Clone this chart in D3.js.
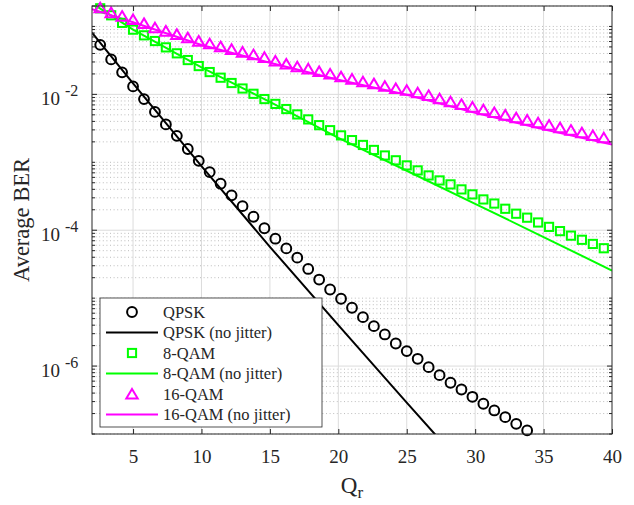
<!DOCTYPE html>
<html>
<head>
<meta charset="utf-8">
<script src="https://cdn.jsdelivr.net/npm/d3@7"></script>
<style>
body { margin: 0; background: #fff; }
text { font-family: "Liberation Serif", "Times New Roman", serif; fill: #262626; }
</style>
</head>
<body>
<div id="chart"></div>
<script>
// simulated points (with jitter)
var qpskX = [2.6, 3.4, 4.2, 5.0, 5.8, 6.6, 7.4, 8.2, 9.0, 9.8, 10.6, 11.4, 12.2, 13.0, 13.8, 14.6, 15.4, 16.2, 17.0, 17.8,
    18.6, 19.4, 20.2, 21.0, 21.8, 22.6, 23.4, 24.2, 25.0, 25.8, 26.6, 27.4, 28.2, 29.0, 29.8, 30.6, 31.4, 32.2, 33.0, 33.8];
var qamX = [2.6, 3.4, 4.2, 5.0, 5.8, 6.6, 7.4, 8.2, 9.0, 9.8, 10.6, 11.4, 12.2, 13.0, 13.8, 14.6, 15.4, 16.2, 17.0, 17.8,
    18.6, 19.4, 20.2, 21.0, 21.8, 22.6, 23.4, 24.2, 25.0, 25.8, 26.6, 27.4, 28.2, 29.0, 29.8, 30.6, 31.4, 32.2, 33.0, 33.8,
    34.6, 35.4, 36.2, 37.0, 37.8, 38.6, 39.4];
var qpskBer = [5.36e-2, 3.27e-2, 2.11e-2, 1.31e-2, 8.53e-3, 5.52e-3, 3.61e-3, 2.45e-3, 1.57e-3, 1.05e-3,
    7.18e-4, 4.84e-4, 3.26e-4, 2.26e-4, 1.58e-4, 1.07e-4, 7.50e-5, 5.40e-5, 3.94e-5, 2.69e-5,
    1.88e-5, 1.34e-5, 9.80e-6, 7.22e-6, 5.25e-6, 3.87e-6, 2.92e-6, 2.15e-6, 1.66e-6, 1.28e-6,
    9.64e-7, 7.35e-7, 5.68e-7, 4.52e-7, 3.53e-7, 2.79e-7, 2.22e-7, 1.77e-7, 1.41e-7, 1.13e-7];
var qam8Ber = [1.85e-1, 1.46e-1, 1.13e-1, 8.97e-2, 7.40e-2, 6.10e-2, 4.92e-2, 4.02e-2, 3.20e-2, 2.61e-2,
    2.13e-2, 1.76e-2, 1.47e-2, 1.22e-2, 1.02e-2, 8.53e-3, 7.24e-3, 6.08e-3, 5.07e-3, 4.28e-3,
    3.52e-3, 2.97e-3, 2.49e-3, 2.12e-3, 1.80e-3, 1.52e-3, 1.26e-3, 1.07e-3, 9.00e-4, 7.60e-4,
    6.41e-4, 5.41e-4, 4.73e-4, 3.99e-4, 3.37e-4, 2.84e-4, 2.47e-4, 2.07e-4, 1.75e-4, 1.53e-4,
    1.30e-4, 1.12e-4, 9.70e-5, 8.32e-5, 7.23e-5, 6.28e-5, 5.43e-5];
var qam16Ber = [1.89e-1, 1.60e-1, 1.42e-1, 1.27e-1, 1.11e-1, 9.60e-2, 8.55e-2, 7.66e-2, 6.84e-2, 6.10e-2,
    5.58e-2, 5.05e-2, 4.61e-2, 4.20e-2, 3.85e-2, 3.51e-2, 3.11e-2, 2.81e-2, 2.56e-2, 2.38e-2,
    2.17e-2, 2.00e-2, 1.82e-2, 1.68e-2, 1.54e-2, 1.44e-2, 1.32e-2, 1.22e-2, 1.15e-2, 1.06e-2,
    9.67e-3, 8.65e-3, 7.80e-3, 7.13e-3, 6.50e-3, 5.95e-3, 5.43e-3, 4.96e-3, 4.54e-3, 4.19e-3,
    3.83e-3, 3.53e-3, 3.24e-3, 2.98e-3, 2.73e-3, 2.49e-3, 2.30e-3];

// curves without jitter
var qpskLineX = [2, 5, 10, 15, 20, 25, 28];
var qpskLine = [8.1e-2, 1.45e-2, 8.8e-4, 5.7e-5, 4.0e-6, 2.9e-7, 6.1e-8];
var qamLineX = [2, 5, 10, 15, 20, 25, 30, 35, 40];
var qam8Line = [2.19e-1, 8.97e-2, 2.50e-2, 7.76e-3, 2.29e-3, 7.51e-4, 2.45e-4, 7.94e-5, 2.55e-5];
var qam16Line = [1.79e-1, 1.15e-1, 5.32e-2, 2.93e-2, 1.64e-2, 9.90e-3, 5.34e-3, 3.05e-3, 1.82e-3];

var xTicks = [5, 10, 15, 20, 25, 30, 35, 40];
var yTicks = [1e-2, 1e-4, 1e-6];
var yTickExp = ["-2", "-4", "-6"];
var legendLabels = ["QPSK", "QPSK (no jitter)", "8-QAM", "8-QAM (no jitter)", "16-QAM", "16-QAM (no jitter)"];

var black = "#000000", green = "#00ff00", magenta = "#ff00ff";

// set the dimensions and margins of the graph
var margin = {top: 6, right: 22, bottom: 71, left: 92},
    width = 634 - margin.left - margin.right,
    height = 505 - margin.top - margin.bottom;

var svg = d3.select("#chart")
    .append("svg")
    .attr("width", 634)
    .attr("height", 505)
    .append("g")
    .attr("transform", "translate(" + margin.left + "," + margin.top + ")");

var x = d3.scaleLinear().domain([2, 40]).range([0, width]);
var y = d3.scaleLog().domain([1e-7, 0.2]).range([height, 0]);

// minor grid values (every k*10^n that is not a major one)
var minor = [];
for (var n = -7; n <= -1; n++) {
    for (var k = 1; k <= 9; k++) {
        var v = k * Math.pow(10, n);
        if (v <= 0.2 && !(k == 1 && n % 2 == 0)) minor.push(v);
    }
}

svg.append("g").selectAll("line")
    .data(minor).enter().append("line")
    .attr("x1", 0).attr("x2", width)
    .attr("y1", function(d) { return y(d); }).attr("y2", function(d) { return y(d); })
    .attr("stroke", "#acacac").attr("stroke-width", 0.8)
    .attr("stroke-dasharray", "1,2.6");

// major grid
svg.append("g").selectAll("line")
    .data(yTicks).enter().append("line")
    .attr("x1", 0).attr("x2", width)
    .attr("y1", function(d) { return y(d); }).attr("y2", function(d) { return y(d); })
    .attr("stroke", "#dcdcdc").attr("stroke-width", 1);
svg.append("g").selectAll("line")
    .data(xTicks.slice(0, -1)).enter().append("line")
    .attr("y1", 0).attr("y2", height)
    .attr("x1", function(d) { return x(d); }).attr("x2", function(d) { return x(d); })
    .attr("stroke", "#dcdcdc").attr("stroke-width", 1);

// clip the curves to the plot area
svg.append("clipPath").attr("id", "clip")
    .append("rect").attr("width", width).attr("height", height);

var line = d3.line()
    .x(function(d) { return x(d[0]); })
    .y(function(d) { return y(d[1]); });

function drawLine(xs, ys, color) {
    svg.append("path")
        .datum(d3.zip(xs, ys))
        .attr("clip-path", "url(#clip)")
        .attr("fill", "none")
        .attr("stroke", color)
        .attr("stroke-width", 2)
        .attr("d", line);
}

drawLine(qpskLineX, qpskLine, black);
drawLine(qamLineX, qam8Line, green);
drawLine(qamLineX, qam16Line, magenta);

// markers
function circle(g, cx, cy) {
    g.append("circle").attr("cx", cx).attr("cy", cy).attr("r", 4.9)
        .attr("fill", "none").attr("stroke", black).attr("stroke-width", 2);
}
function square(g, cx, cy) {
    g.append("rect").attr("x", cx - 4.1).attr("y", cy - 4.1).attr("width", 8.2).attr("height", 8.2)
        .attr("fill", "none").attr("stroke", green).attr("stroke-width", 2);
}
function triangle(g, cx, cy) {
    g.append("path")
        .attr("d", "M" + cx + "," + (cy - 5) + "L" + (cx + 5.7) + "," + (cy + 4.6) + "L" + (cx - 5.7) + "," + (cy + 4.6) + "Z")
        .attr("fill", "none").attr("stroke", magenta).attr("stroke-width", 2)
        .attr("stroke-linejoin", "miter");
}

var marks = svg.append("g");
qpskX.forEach(function(d, i) { circle(marks, x(d), y(qpskBer[i])); });
qamX.forEach(function(d, i) { square(marks, x(d), y(qam8Ber[i])); });
qamX.forEach(function(d, i) { triangle(marks, x(d), y(qam16Ber[i])); });

// box and ticks
var axisColor = "#262626";
svg.append("rect").attr("width", width).attr("height", height)
    .attr("fill", "none").attr("stroke", axisColor).attr("stroke-width", 1);

var xAxis = svg.append("g")
    .attr("transform", "translate(0," + height + ")")
    .call(d3.axisBottom(x).tickValues(xTicks).tickSize(-5).tickPadding(16));
xAxis.select(".domain").remove();
xAxis.selectAll("line").attr("stroke", axisColor);
xAxis.selectAll("text").attr("font-size", 19).attr("font-family", "Liberation Serif").attr("fill", axisColor);

var xTop = svg.append("g")
    .call(d3.axisTop(x).tickValues(xTicks).tickSize(-5).tickFormat(""));
xTop.select(".domain").remove();
xTop.selectAll("line").attr("stroke", axisColor);

// y ticks on both sides, major and minor
[0, width].forEach(function(side) {
    var dir = side == 0 ? 1 : -1;
    svg.append("g").selectAll("line")
        .data(yTicks).enter().append("line")
        .attr("x1", side).attr("x2", side + dir * 5)
        .attr("y1", function(d) { return y(d); }).attr("y2", function(d) { return y(d); })
        .attr("stroke", axisColor);
    svg.append("g").selectAll("line")
        .data(minor).enter().append("line")
        .attr("x1", side).attr("x2", side + dir * 3)
        .attr("y1", function(d) { return y(d); }).attr("y2", function(d) { return y(d); })
        .attr("stroke", axisColor);
});

// y tick labels as 10^n
var yLab = svg.append("g").selectAll("g")
    .data(yTicks).enter().append("g")
    .attr("transform", function(d) { return "translate(0," + y(d) + ")"; });
yLab.append("text").attr("x", -51).attr("y", 11).attr("font-size", 19).text("10");
yLab.append("text").attr("x", -27).attr("y", 2).attr("font-size", 16)
    .text(function(d, i) { return yTickExp[i]; });

// axis labels
svg.append("text")
    .attr("transform", "translate(-63," + (height / 2) + ") rotate(-90)")
    .attr("text-anchor", "middle")
    .attr("font-size", 22.5)
    .text("Average BER");

var xl = svg.append("text")
    .attr("x", x(21))
    .attr("y", height + 59)
    .attr("text-anchor", "middle")
    .attr("font-size", 23);
xl.append("tspan").text("Q");
xl.append("tspan").attr("dy", 5).attr("font-size", 17).text("r");

// legend
var lg = svg.append("g").attr("transform", "translate(" + (100 - margin.left) + "," + (298 - margin.top) + ")");
lg.append("rect").attr("width", 222).attr("height", 129)
    .attr("fill", "#fff").attr("stroke", axisColor).attr("stroke-width", 0.8);
var colors = [black, black, green, green, magenta, magenta];
legendLabels.forEach(function(label, i) {
    var ry = 14 + i * 20.5;
    if (i % 2 == 1) {
        lg.append("line").attr("x1", 6).attr("x2", 58).attr("y1", ry).attr("y2", ry)
            .attr("stroke", colors[i]).attr("stroke-width", 2);
    } else if (i == 0) {
        circle(lg, 32, ry);
    } else if (i == 2) {
        square(lg, 32, ry);
    } else {
        triangle(lg, 32, ry);
    }
    lg.append("text").attr("x", 63).attr("y", ry).attr("dy", "0.35em")
        .attr("font-size", 16.5).text(label);
});
</script>
</body>
</html>
